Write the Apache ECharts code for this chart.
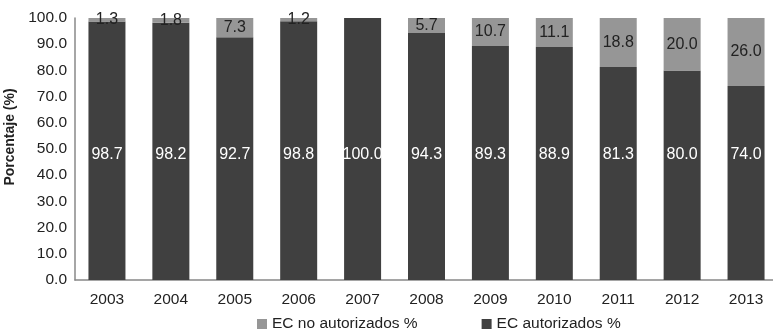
<!DOCTYPE html>
<html><head><meta charset="utf-8">
<script src="https://cdn.jsdelivr.net/npm/echarts@6/dist/echarts.min.js"></script>
<style>html,body{margin:0;padding:0;background:#fff}#c{width:773px;height:333px}</style>
</head><body><div id="c"></div>
<script>
const categories = ['2003','2004','2005','2006','2007','2008','2009','2010','2011','2012','2013'];
const autorizados = [98.7, 98.2, 92.7, 98.8, 100.0, 94.3, 89.3, 88.9, 81.3, 80.0, 74.0];
const noAutorizados = [1.3, 1.8, 7.3, 1.2, 0, 5.7, 10.7, 11.1, 18.8, 20.0, 26.0];
const yTicks = [0,10,20,30,40,50,60,70,80,90,100];

const FONT = '"Liberation Sans", Arial, sans-serif';
const chart = echarts.init(document.getElementById('c'), null, {renderer:'canvas'});
chart.setOption({
  animation:false,
  textStyle:{fontFamily:FONT},
  grid:{left:75, top:18, width:703, height:262, containLabel:false, outerBoundsMode:'none'},
  legend:{
    top:311, left:252, itemWidth:10, itemHeight:10, itemGap:64,
    icon:'rect',
    textStyle:{fontFamily:FONT, fontSize:15.5, color:'#222'},
    data:['EC no autorizados %','EC autorizados %']
  },
  xAxis:{
    type:'category', data:categories,
    axisLine:{lineStyle:{color:'#888', width:1.5}},
    axisTick:{show:false},
    axisLabel:{fontFamily:FONT, fontSize:15.5, color:'#222', margin:12}
  },
  yAxis:{
    type:'value', min:yTicks[0], max:yTicks[yTicks.length-1], interval:10,
    name:'Porcentaje (%)', nameLocation:'middle', nameGap:49,
    nameTextStyle:{fontFamily:FONT, fontSize:14, fontWeight:'bold', color:'#222', padding:[0,0,0,24]},
    axisLine:{show:true, lineStyle:{color:'#888', width:1.5}},
    axisTick:{show:false},
    splitLine:{show:false},
    axisLabel:{fontFamily:FONT, fontSize:15.5, color:'#222', margin:8, formatter:v=>v.toFixed(1)}
  },
  series:[
    {
      name:'EC autorizados %', type:'bar', stack:'s', barWidth:37,
      itemStyle:{color:'#404040'},
      data:autorizados,
      label:{show:true, position:'insideBottom', distance:117, color:'#fff', fontFamily:FONT, fontSize:16,
        formatter:p=>p.value.toFixed(1)}
    },
    {
      name:'EC no autorizados %', type:'bar', stack:'s', barWidth:37,
      itemStyle:{color:'#969696'},
      data:noAutorizados,
      label:{show:true, position:'inside', color:'#222', fontFamily:FONT, fontSize:16,
        formatter:p=>p.value>0?p.value.toFixed(1):''}
    }
  ]
});
</script></body></html>
